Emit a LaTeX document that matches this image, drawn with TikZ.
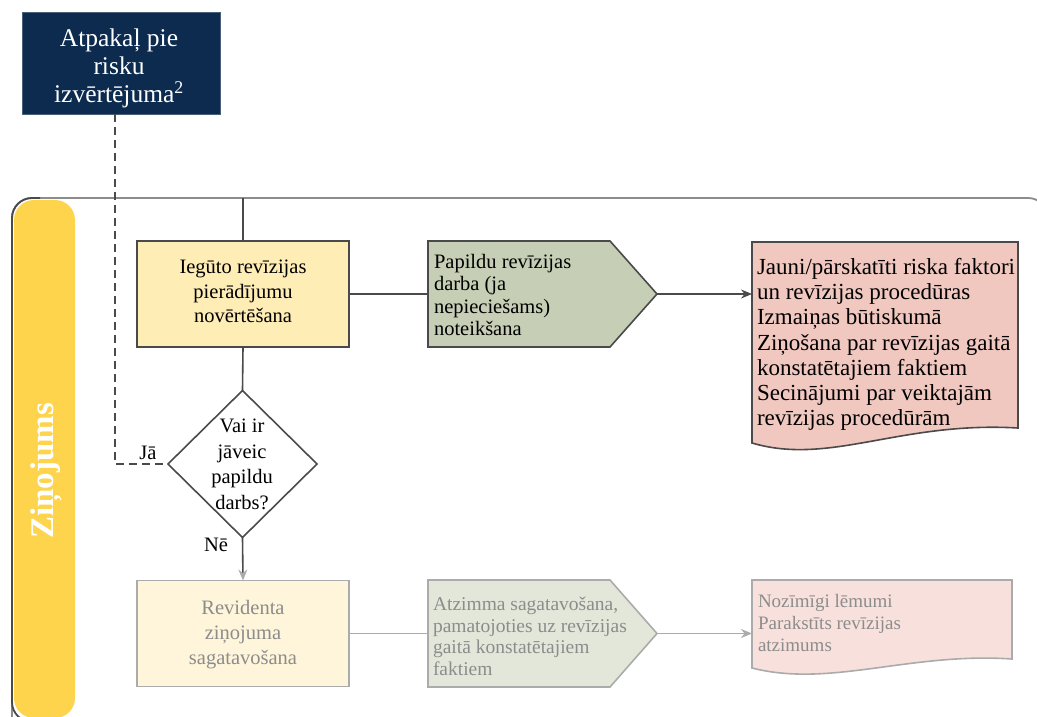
\documentclass[tikz,border=0pt]{standalone}
\usepackage{fontspec}
\setmainfont{Liberation Serif}
\usetikzlibrary{shapes.geometric,arrows.meta,calc}

\definecolor{navy}{HTML}{0C2B4F}
\definecolor{laneyellow}{HTML}{FDD44B}
\definecolor{stepyellow}{HTML}{FFEDB6}
\definecolor{stepgreen}{HTML}{C6CEB5}
\definecolor{steppink}{HTML}{F0C8C0}
\definecolor{fadeyellow}{HTML}{FFF5DA}
\definecolor{fadegreen}{HTML}{E3E7D9}
\definecolor{fadepink}{HTML}{F8E1DC}
\definecolor{lineink}{HTML}{4A4A4A}
\definecolor{lanegray}{HTML}{8C8C8C}
\definecolor{fadeink}{HTML}{ABABAB}
\definecolor{fadetext}{HTML}{8C8C8C}

\begin{document}
\begin{tikzpicture}[x=1pt,y=-1pt,
  every node/.style={inner sep=0pt, outer sep=0pt},
  boxtext/.style={font=\fontsize{20.5}{24.5}\selectfont, align=center, text=black},
  lefttext/.style={font=\fontsize{20.5}{22.5}\selectfont, align=left, text=black},
  doctext/.style={font=\fontsize{23}{25.3}\selectfont, align=left, text=black},
  stepbox/.style={draw=lineink, line width=1.6pt, minimum width=212, minimum height=106},
  area/.style={minimum width=#1, anchor=north west},
  link/.style={draw=lineink, line width=1.6pt},
  fadelink/.style={draw=fadeink, line width=1.6pt},
  tip/.style={-{Stealth[length=11pt,width=9pt]}},
  fadetip/.style={-{Stealth[length=11pt,width=9pt,color=fadeink]}},
  faded/.style={text=fadetext}
]
\useasboundingbox (0,0) rectangle (1037,717);

% return box above the lane
\node[draw=navy!75!white, fill=navy, line width=0.8pt,
      minimum width=198, minimum height=102] (back) at (121,63) {};
\node[font=\fontsize{25.5}{28}\selectfont, align=center, text=white, anchor=north]
  (backtext) at (119,29) {Atpakaļ pie\\risku\\izvērtējuma\textsuperscript{2}};

% swimlane frame
\draw[lanegray, line width=1.8pt, rounded corners=20pt]
  (12,760) -- (12,198) -- (1048,198) -- (1048,760);
\draw[lineink, line width=1.8pt, rounded corners=20pt]
  (40,198) -- (12,198) -- (12,722) -- (40,722);
\node[fill=laneyellow, rounded corners=20pt, minimum width=61, minimum height=518,
      anchor=north west] (lane) at (14,200) {};
\node[rotate=90, text=white, font=\bfseries\fontsize{33}{33}\selectfont]
  (lanetitle) at (46,471) {Ziņojums};
\coordinate (lanetop) at (243,198);

% first row
\node[stepbox, fill=stepyellow] (eval) at (243,294) {};
\node[boxtext, anchor=north] (evaltext) at (243,260)
  {Iegūto revīzijas\\pierādījumu\\novērtēšana};

\node[area=182, minimum height=106] (extra) at (428,241) {};
\coordinate (extratip) at (657,294);
\filldraw[fill=stepgreen, draw=lineink, line width=1.6pt]
  (extra.north west) -- (extra.north east) -- (extratip)
  -- (extra.south east) -- (extra.south west) -- cycle;
\node[lefttext, anchor=north west] (extratext) at (434,254)
  {Papildu revīzijas\\darba (ja\\nepieciešams)\\noteikšana};

\node[area=266, minimum height=206] (risks) at (752,242) {};
\filldraw[fill=steppink, draw=lineink, line width=1.6pt]
  (risks.north west) -- (risks.north east) -- (1018,428)
  .. controls (900,421) and (830,466) .. (752,443) -- cycle;
\node[doctext, anchor=north west] (riskstext) at (757,258)
  {Jauni/pārskatīti riska faktori\\un revīzijas procedūras\\Izmaiņas būtiskumā\\%
   Ziņošana par revīzijas gaitā\\konstatētajiem faktiem\\Secinājumi par veiktajām\\%
   revīzijas procedūrām};

% decision
\node[draw=lineink, fill=white, line width=1.6pt, diamond,
      minimum width=149, minimum height=147] (ask) at (242.5,464) {};
\node[boxtext, font=\fontsize{20.5}{25.5}\selectfont, anchor=north] (asktext) at (242,419)
  {Vai ir\\jāveic\\papildu\\darbs?};
\node[font=\fontsize{20.5}{24}\selectfont] (yes) at (148,453) {Jā};
\node[font=\fontsize{20.5}{24}\selectfont] (no) at (216,545) {Nē};

% second row
\node[stepbox, fill=fadeyellow, draw=fadeink] (report) at (243,633.5) {};
\node[boxtext, faded, font=\fontsize{20.5}{25}\selectfont, anchor=north] (reporttext) at (243,600)
  {Revidenta\\ziņojuma\\sagatavošana};

\node[area=182, minimum height=107] (draft) at (428,580) {};
\coordinate (drafttip) at (657,633.5);
\filldraw[fill=fadegreen, draw=fadeink, line width=1.6pt]
  (draft.north west) -- (draft.north east) -- (drafttip)
  -- (draft.south east) -- (draft.south west) -- cycle;
\node[lefttext, faded, font=\fontsize{19.5}{21.7}\selectfont, anchor=north west]
  (drafttext) at (433,597)
  {Atzimma sagatavošana,\\pamatojoties uz revīzijas\\gaitā konstatētajiem\\faktiem};

\node[area=260, minimum height=90] (final) at (752,580) {};
\filldraw[fill=fadepink, draw=fadeink, line width=1.6pt]
  (final.north west) -- (final.north east) -- (1012,659)
  .. controls (910,652) and (830,688) .. (752,668) -- cycle;
\node[lefttext, faded, font=\fontsize{19}{22}\selectfont, anchor=north west]
  (finaltext) at (758,594)
  {Nozīmīgi lēmumi\\Parakstīts revīzijas\\atzimums};

% connectors
\draw[link] (lanetop) -- (eval.north);
\draw[link] (eval.east) -- (extra.west |- eval.east);
\draw[link, tip] (extratip) -- (extratip -| risks.west);
\draw[link] (eval.south) -- (ask.north);
\draw[link, dashed, dash pattern=on 8pt off 5pt]
  ([xshift=-6pt]back.south) |- (ask.west);
\draw[link, fadetip] (ask.south) -- (report.north);
\draw[fadelink] (report.east) -- (draft.west |- report.east);
\draw[fadelink, fadetip] (drafttip) -- (drafttip -| final.west);
\end{tikzpicture}
\end{document}
